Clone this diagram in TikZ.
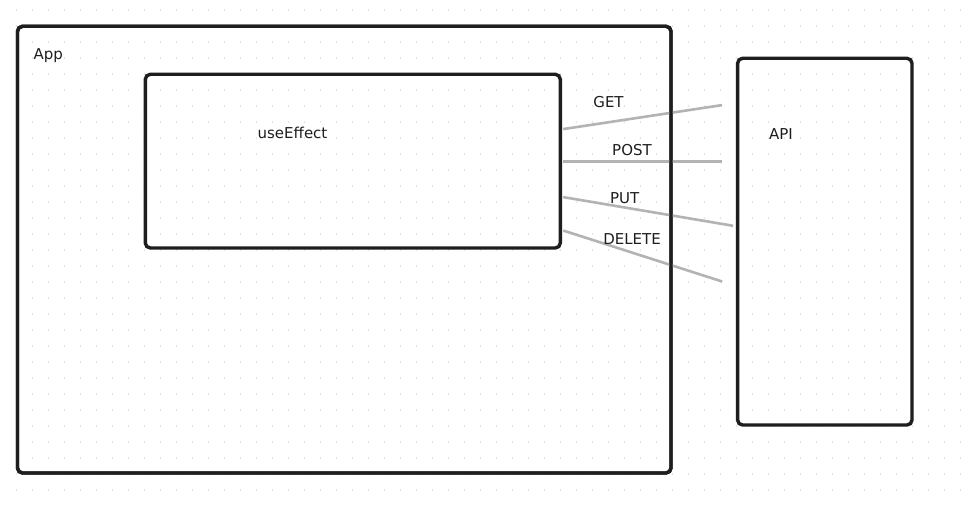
\documentclass[tikz,border=0pt]{standalone}
\usepackage{fontspec}
\setmainfont{DejaVu Sans}
\usetikzlibrary{calc}
\definecolor{ink}{HTML}{1E1E1E}
\definecolor{wire}{HTML}{B3B3B3}
\definecolor{dotc}{HTML}{DEDEDE}
\begin{document}
\begin{tikzpicture}[x=1pt,y=-1pt,
  box/.style={draw=ink, line width=3.4pt, rounded corners=5pt, inner sep=0pt},
  lbl/.style={text=ink, font=\fontsize{15}{18}\selectfont, anchor=base, inner sep=0pt},
  wireline/.style={draw=wire, line width=2.6pt}]
\useasboundingbox (0,0) rectangle (972,505);
\fill[white] (0,0) rectangle (972,505);
\foreach \i in {0,...,60} \foreach \j in {0,...,31} \fill[dotc] (16.5+16*\i, 10+16*\j) circle (0.8);
% boxes
\node[box, minimum width=653.5pt, minimum height=446.7pt] (app) at (344.25,249.65) {};
\node[box, minimum width=415pt, minimum height=173.7pt] (ue) at (352.8,161.15) {};
\node[box, minimum width=174.4pt, minimum height=366.7pt] (api) at (824.8,241.65) {};
% connector end points
\coordinate (s1) at ($(ue.north east)+(1.2,56.5)$);
\coordinate (s2) at ($(ue.north east)+(1.2,88.9)$);
\coordinate (s3) at ($(ue.north east)+(1.2,124.5)$);
\coordinate (s4) at ($(ue.north east)+(1.2,157.9)$);
\coordinate (e1) at ($(api.north west)+(-13.8,48.5)$);
\coordinate (e2) at ($(api.north west)+(-13.8,104.9)$);
\coordinate (e3) at ($(api.north west)+(-2.8,169.2)$);
\coordinate (e4) at ($(api.north west)+(-13.8,224.9)$);
\draw[wireline] (s1) -- (e1);
\draw[wireline] (s2) -- (e2);
\draw[wireline] (s3) -- (e3);
\draw[wireline] (s4) -- (e4);
% redraw App border over wires
\draw[draw=ink, line width=3.4pt, rounded corners=5pt] ($(app.north west)+(1.7,1.7)$) rectangle ($(app.south east)+(-1.7,-1.7)$);
% labels
\node[lbl] (tapp) at (48.3,60) {App};
\node[lbl] (tue) at (292.5,138.3) {useEffect};
\node[lbl] (tapi) at (781,140) {API};
\node[lbl] (tget) at (608.5,108) {GET};
\node[lbl] (tpost) at (632,156) {POST};
\node[lbl] (tput) at (624.7,204) {PUT};
\node[lbl] (tdel) at (632,244.3) {DELETE};
\end{tikzpicture}
\end{document}
